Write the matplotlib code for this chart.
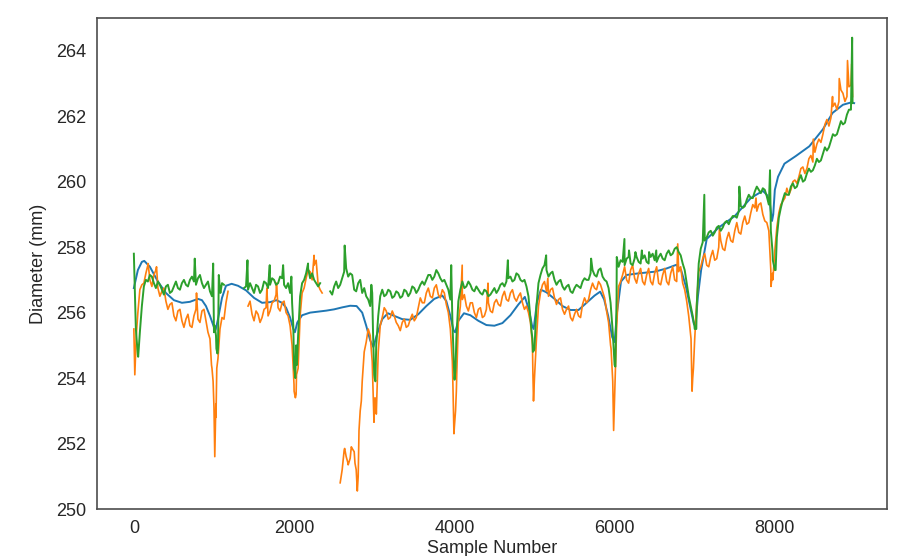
import numpy as np
import matplotlib
matplotlib.use("Agg")
import matplotlib.pyplot as plt

nan = np.nan

# ---- model (smooth) series ----
model_x = [0, 50, 100, 130, 200, 300, 400, 500, 600, 700, 800, 850, 900, 950, 1000, 1020, 1050,
           1100, 1150, 1220, 1300, 1400, 1500, 1600, 1700, 1780, 1850, 1900, 1950, 1990, 2010,
           2040, 2100, 2200, 2300, 2400, 2500, 2600, 2700, 2780, 2850, 2900, 2950, 2990, 3030,
           3100, 3170, 3250, 3350, 3450, 3550, 3650, 3750, 3850, 3900, 3950, 3990, 4010, 4050,
           4120, 4200, 4300, 4400, 4500, 4600, 4700, 4800, 4880, 4930, 4970, 4990, 5030, 5080,
           5150, 5250, 5350, 5450, 5550, 5650, 5750, 5820, 5870, 5920, 5970, 6000, 6030, 6080,
           6150, 6300, 6500, 6650, 6770, 6830, 6890, 6950, 6990, 7010, 7040, 7080, 7150, 7300,
           7500, 7700, 7850, 7900, 7940, 7965, 7980, 8000, 8040, 8120, 8260, 8430, 8600, 8720,
           8850, 8950, 8990]
model_y = [256.75, 257.3, 257.55, 257.58, 257.4, 256.95, 256.6, 256.38, 256.3, 256.33, 256.42,
           256.38, 256.2, 255.9, 255.55, 255.47, 255.8, 256.45, 256.82, 256.88, 256.82, 256.68,
           256.45, 256.3, 256.32, 256.38, 256.3, 256.15, 255.85, 255.5, 255.4, 255.7, 255.92,
           256.0, 256.03, 256.06, 256.1, 256.16, 256.21, 256.2, 256.0, 255.6, 255.15, 254.95,
           255.3, 255.8, 255.98, 255.9, 255.8, 255.78, 255.95, 256.2, 256.42, 256.52, 256.35,
           255.9, 255.45, 255.4, 255.75, 255.98, 255.92, 255.75, 255.62, 255.6, 255.68, 255.92,
           256.25, 256.48, 256.1, 255.6, 255.5, 256.3, 256.7, 256.62, 256.42, 256.2, 256.08,
           256.08, 256.3, 256.52, 256.64, 256.4, 255.9, 255.25, 255.1, 256.0, 256.95, 257.15,
           257.2, 257.25, 257.35, 257.46, 257.3, 256.8, 256.1, 255.65, 255.6, 256.5, 257.3,
           258.25, 258.6, 258.95, 259.5, 259.72, 259.6, 259.3, 258.8, 259.0, 259.75, 260.15,
           260.55, 260.78, 261.08, 261.6, 262.1, 262.35, 262.42, 262.4]

step = 50  # measured series: one value every 50 samples, plus mid-values at +25

# ---- measured series A (orange) ----
orange_base = [
    255.5, 256.0, 256.85, 257.2, 257.0, 257.15, 256.75, 256.65, 256.35, 256.25,
    255.9, 256.05, 255.75, 255.8, 255.6, 255.9, 255.8, 256.05, 255.75, 255.2,
    253.1, 254.6, 255.85, 256.3, nan, nan, nan, nan, nan, 256.35,
    255.75, 255.95, 255.85, 256.15, 256.05, 256.35, 256.15, 256.3, 256.0, 255.6,
    253.6, 254.3, 256.6, 257.05, 257.25, 257.45, 256.85, 256.6, nan, nan,
    nan, nan, 251.2, 251.6, 251.55, 251.75, 251.0, 253.9, 255.1, 255.3,
    252.9, 254.8, 255.85, 256.05, 255.85, 255.9, 255.6, 255.7, 255.55, 255.8,
    255.75, 256.15, 256.3, 256.6, 256.5, 256.75, 256.55, 256.7, 256.25, 255.5,
    252.5, 255.7, 256.4, 256.2, 256.3, 256.0, 256.1, 255.85, 256.1, 256.05,
    256.3, 256.25, 256.5, 256.4, 256.6, 256.45, 256.5, 256.3, 256.2, 255.7,
    254.0, 256.2, 256.85, 256.65, 256.7, 256.45, 256.4, 256.1, 256.1, 255.85,
    255.95, 255.9, 256.25, 256.3, 256.7, 256.75, 256.95, 256.65, 256.05, 255.0,
    253.4, 256.8, 257.15, 257.0, 257.3, 257.05, 257.2, 256.95, 257.15, 256.95,
    257.2, 256.9, 257.15, 256.95, 257.2, 257.0, 257.25, 256.9, 256.35, 255.3,
    255.2, 257.25, 257.65, 257.45, 257.7, 257.6, 258.0, 257.95, 258.25, 258.2,
    258.5, 258.45, 258.75, 258.7, 259.05, 259.2, 259.3, 259.0, 258.75, 257.3,
    257.9, 259.05, 259.4, 259.8, 259.75, 260.05, 260.15, 260.45, 260.4, 260.8,
    260.9, 261.3, 261.45, 261.9, 261.95, 262.4, 262.45, 262.7, 262.6, 262.95,
    nan]
orange_mid = [
    255.0, 256.7, 256.9, 257.45, 256.8, 257.3, 256.5, 256.75, 256.1, 256.3,
    255.75, 256.1, 255.55, 255.95, 255.55, 256.1, 255.7, 256.1, 255.4, 254.3,
    252.8, 255.5, 255.8, 256.65, nan, nan, nan, nan, 256.2, 255.95,
    256.05, 255.7, 256.1, 255.9, 256.3, 256.55, 256.05, 256.35, 255.9, 255.0,
    253.5, 255.9, 256.75, 257.3, 257.0, 257.6, 256.7, nan, nan, nan,
    nan, 250.8, 251.8, 251.35, 251.85, 251.2, 253.0, 254.8, 255.5, 254.5,
    253.0, 255.6, 256.15, 255.8, 256.05, 255.7, 255.45, 255.8, 255.6, 255.95,
    255.85, 256.45, 256.3, 256.75, 256.45, 256.85, 256.45, 256.6, 256.0, 254.5,
    253.6, 256.2, 256.55, 256.05, 256.3, 255.85, 256.15, 255.9, 256.3, 256.0,
    256.4, 256.2, 256.65, 256.35, 256.7, 256.35, 256.6, 256.1, 256.0, 255.0,
    255.2, 256.6, 256.95, 256.5, 256.75, 256.25, 256.45, 255.95, 256.2, 255.75,
    256.1, 255.85, 256.45, 256.4, 256.9, 256.7, 256.85, 256.45, 255.7, 254.0,
    255.5, 256.95, 257.4, 256.9, 257.45, 256.9, 257.35, 256.85, 257.35, 256.85,
    257.4, 256.85, 257.35, 256.85, 257.4, 256.95, 257.4, 256.7, 255.9, 254.0,
    256.3, 257.4, 257.8, 257.4, 257.9, 257.65, 258.2, 257.9, 258.45, 258.15,
    258.75, 258.4, 258.95, 258.75, 259.3, 259.1, 259.35, 258.8, 258.5, 257.0,
    258.6, 259.3, 259.5, 259.6, 260.0, 259.95, 260.4, 260.25, 260.7, 260.6,
    261.15, 261.2, 261.75, 261.7, 262.3, 262.2, 262.8, 262.45, 262.9, nan]
orange_extra_x = [12, 30, 178, 283, 782, 969, 989, 1010, 1023, 1035, 1660, 1780, 1999,
                  2016, 2030, 2249, 2631, 2673, 2714, 2760, 2789, 2810, 2839, 2984, 2997,
                  3010, 3026, 3982, 3995, 4015, 4030, 4098, 4420, 4980, 4988, 5010, 5167, 5956,
                  5977, 5988, 6788, 6954, 6967, 6984, 7308, 7765, 7952, 7970, 8480, 8720,
                  8804, 8907, 8960, 8970]
orange_extra_y = [254.1, 255.3, 257.5, 257.4, 256.6, 254.4, 253.9, 251.6, 253.2, 254.3,
                  256.75, 256.9, 253.8, 253.4, 254.1, 257.75, 251.85, 251.4, 251.9, 251.4,
                  250.55, 252.4, 253.3, 253.7, 252.65, 253.4, 252.9, 253.8, 252.3, 253.0, 254.1,
                  257.45, 256.9, 254.2, 253.3, 254.5, 257.05, 254.9, 253.9, 252.4, 258.1,
                  255.2, 253.6, 254.3, 258.55, 259.5, 256.8, 257.2, 261.3, 262.6, 263.15,
                  263.7, 263.6, 262.6]

# ---- measured series B (green) ----
green_base = [
    257.8, 254.7, 256.2, 257.0, 257.15, 256.9, 256.95, 256.7, 256.8, 256.6,
    256.8, 256.75, 256.9, 256.85, 257.0, 256.95, 257.05, 256.9, 256.85, 256.65,
    255.4, 254.9, 256.9, nan, nan, nan, nan, nan, 256.8, 256.9,
    256.6, 256.8, 256.7, 256.9, 256.85, 257.0, 256.9, 257.05, 256.75, 256.6,
    254.3, 255.3, 256.9, 257.2, 257.05, 257.0, 256.8, nan, nan, 256.65,
    256.8, 256.75, 257.05, 257.35, 257.2, 256.7, 256.9, 256.6, 256.5, 256.2,
    254.1, 255.9, 256.7, 256.55, 256.65, 256.5, 256.6, 256.5, 256.65, 256.6,
    256.75, 256.7, 256.95, 257.0, 257.15, 257.1, 257.2, 256.95, 256.85, 256.4,
    254.0, 256.35, 256.95, 256.8, 256.85, 256.65, 256.7, 256.55, 256.65, 256.55,
    256.75, 256.7, 256.9, 256.95, 257.1, 257.0, 257.15, 256.95, 256.8, 255.8,
    254.9, 256.9, 257.35, 257.3, 257.2, 257.0, 256.95, 256.8, 256.8, 256.65,
    256.75, 256.8, 256.95, 257.0, 257.2, 257.15, 257.3, 257.1, 256.95, 256.3,
    254.4, 257.4, 257.55, 257.65, 257.5, 257.65, 257.55, 257.65, 257.55, 257.7,
    257.6, 257.7, 257.65, 257.8, 257.75, 257.95, 257.85, 257.5, 256.9, 256.2,
    255.5, 257.5, 258.15, 258.3, 258.5, 258.45, 258.65, 258.6, 258.8, 258.85,
    258.95, 259.1, 259.2, 259.45, 259.5, 259.7, 259.75, 259.8, 259.55, 258.5,
    257.3, 258.9, 259.45, 259.6, 259.85, 259.8, 260.05, 260.0, 260.25, 260.3,
    260.5, 260.6, 260.85, 260.95, 261.25, 261.4, 261.65, 261.75, 262.05, 262.2,
    nan]
green_mid = [
    255.5, 255.4, 256.8, 256.95, 257.1, 256.75, 256.85, 256.55, 256.85, 256.65,
    256.95, 256.7, 257.0, 256.8, 257.1, 256.85, 257.15, 256.75, 256.95, 256.5,
    255.3, 256.7, 256.85, nan, nan, nan, nan, 256.75, 256.7, 256.75,
    256.85, 256.6, 256.95, 256.75, 257.05, 256.85, 257.1, 256.85, 256.9, 256.3,
    255.0, 256.5, 257.0, 257.35, 257.2, 256.9, 256.9, nan, nan, 256.55,
    256.95, 256.85, 257.25, 257.1, 257.15, 256.65, 257.0, 256.75, 256.4, 256.6,
    255.0, 256.5, 256.5, 256.7, 256.45, 256.65, 256.45, 256.7, 256.5, 256.8,
    256.6, 256.85, 256.85, 257.15, 257.0, 257.3, 257.05, 257.0, 256.7, 255.8,
    255.2, 256.7, 256.75, 256.95, 256.7, 256.8, 256.6, 256.7, 256.5, 256.65,
    256.6, 256.85, 256.8, 257.05, 256.95, 257.2, 257.0, 257.0, 256.5, 255.2,
    256.2, 257.15, 257.45, 257.1, 257.25, 256.85, 257.0, 256.7, 256.85, 256.6,
    256.85, 256.75, 257.05, 257.0, 257.3, 257.1, 257.35, 257.0, 256.75, 255.5,
    256.5, 257.6, 257.45, 257.7, 257.45, 257.7, 257.5, 257.75, 257.5, 257.8,
    257.55, 257.8, 257.6, 257.9, 257.8, 258.0, 257.75, 257.3, 256.5, 255.9,
    256.2, 257.95, 258.2, 258.45, 258.35, 258.6, 258.5, 258.75, 258.7, 258.95,
    258.9, 259.25, 259.25, 259.6, 259.5, 259.85, 259.65, 259.75, 259.3, 257.6,
    258.3, 259.2, 259.65, 259.6, 259.95, 259.85, 260.2, 260.05, 260.4, 260.35,
    260.7, 260.65, 261.05, 261.05, 261.45, 261.45, 261.85, 261.8, 262.2, nan]
green_extra_x = [54, 760, 990, 1010, 1030, 1043, 1060, 1080, 1418, 1696, 1863, 1966,
                 1990, 2008, 2015, 2035, 2174, 2631, 2964, 2985, 3005, 3015, 3961,
                 3982, 4003, 4015, 4668, 4965, 4980, 4995, 5146, 5707, 5977, 6010, 6027, 6123,
                 6180, 6260, 6340, 6430, 6520, 6996, 7020, 7120, 7557, 7940, 7970, 8010, 8965,
                 8970]
green_extra_y = [254.65, 257.65, 257.5, 255.6, 254.9, 254.75, 257.15, 256.6,
                 257.6, 257.45, 257.45, 257.1, 255.6, 254.2, 254.0, 254.4, 257.5, 258.05,
                 256.85, 255.4, 254.0, 253.9, 257.45, 255.3, 253.95, 254.3, 257.6, 255.4,
                 254.8, 254.85, 257.75, 257.65, 255.4, 254.35, 257.7, 258.25, 257.9, 257.85,
                 257.9, 257.85, 257.9, 255.6, 255.5, 259.6, 259.85, 260.35, 257.9, 257.3, 264.4,
                 262.4]

x_ticks = [0, 2000, 4000, 6000, 8000]
y_ticks = [250, 252, 254, 256, 258, 260, 262, 264]


def merged(base, mid, ex_x, ex_y):
    bx = np.arange(len(base)) * step
    mx = np.arange(len(mid)) * step + step / 2
    x = np.concatenate([bx, mx, np.asarray(ex_x, float)])
    y = np.concatenate([np.asarray(base, float), np.asarray(mid, float),
                        np.asarray(ex_y, float)])
    order = np.argsort(x, kind="stable")
    return x[order], y[order]


plt.rcParams["font.family"] = ["Liberation Sans", "DejaVu Sans"]
fig = plt.figure(figsize=(9.04, 5.56), dpi=100)
ax = fig.add_axes([0.1073, 0.0845, 0.8739, 0.8831])

ox, oy = merged(orange_base, orange_mid, orange_extra_x, orange_extra_y)
gx, gy = merged(green_base, green_mid, green_extra_x, green_extra_y)

ax.plot(model_x, model_y, color="#1f77b4", lw=1.4)
ax.plot(ox, oy, color="#ff7f0e", lw=1.2)
ax.plot(gx, gy, color="#2ca02c", lw=1.4)

ax.set_xlim(-460, 9400)
ax.set_ylim(250, 265)
ax.set_xticks(x_ticks)
ax.set_yticks(y_ticks)
ax.tick_params(length=0, labelsize=13, pad=8, colors="#262626")
for s in ax.spines.values():
    s.set_color("#4d4d4d")
    s.set_linewidth(1.2)
ax.set_xlabel("Sample Number", fontsize=13, labelpad=2, color="#262626")
ax.set_ylabel("Diameter (mm)", fontsize=13, labelpad=6, color="#262626")

fig.savefig("out.png", dpi=100)
